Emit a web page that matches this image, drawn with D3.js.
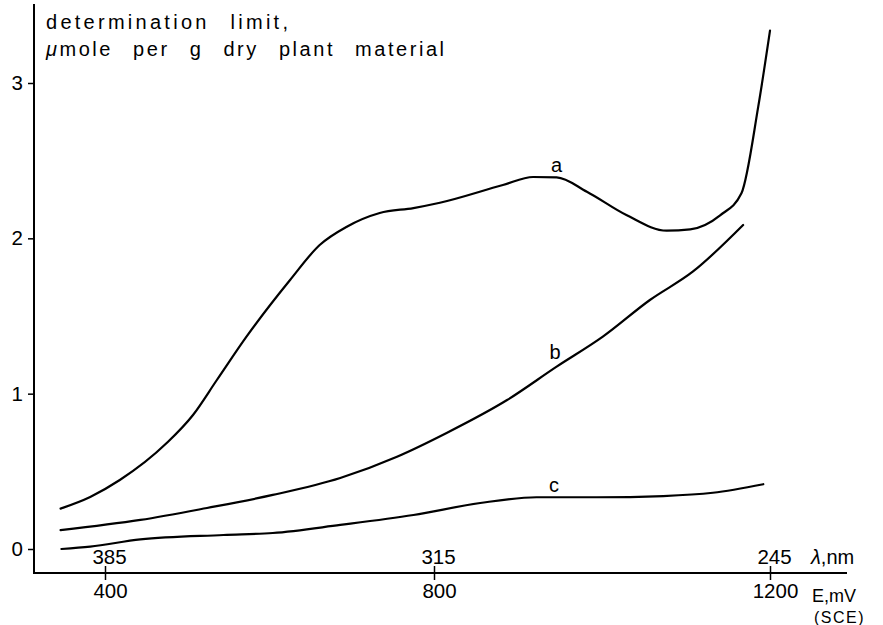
<!DOCTYPE html>
<html>
<head>
<meta charset="utf-8">
<script src="https://cdn.jsdelivr.net/npm/d3@7/dist/d3.min.js"></script>
<style>
  html, body { margin: 0; padding: 0; background: #fff; }
  svg { display: block; font-family: "Liberation Sans", Arial, Helvetica, sans-serif; }
  .curve { fill: none; stroke: #000; stroke-width: 2.2; stroke-linejoin: round; stroke-linecap: round; }
  .axisline { stroke: #000; stroke-width: 2; }
  .tick line { stroke: #000; stroke-width: 1.5; }
  .tick text { font-size: 20.5px; fill: #000; }
</style>
</head>
<body>
<svg id="chart" width="883" height="625"></svg>
<script>
// Potential E (mV vs SCE) and determination limit (µmole per g dry plant material)
const curveA_E = [346, 382, 418, 475, 507, 536, 572, 625, 661, 694, 734, 775, 807, 882, 918, 946, 982, 1029, 1077, 1105, 1141, 1166, 1186, 1200];
const curveA_v = [0.26, 0.335, 0.444, 0.682, 0.863, 1.088, 1.367, 1.732, 1.957, 2.075, 2.163, 2.195, 2.229, 2.343, 2.395, 2.393, 2.300, 2.150, 2.049, 2.058, 2.150, 2.290, 2.848, 3.337];

const curveB_E = [346, 443, 524, 604, 686, 755, 815, 887, 946, 1001, 1057, 1108, 1168];
const curveB_v = [0.122, 0.187, 0.264, 0.348, 0.457, 0.594, 0.747, 0.959, 1.174, 1.367, 1.603, 1.785, 2.086];

const curveC_E = [347, 382, 443, 544, 604, 686, 775, 855, 922, 994, 1073, 1132, 1192];
const curveC_v = [0.0, 0.015, 0.062, 0.090, 0.103, 0.155, 0.219, 0.296, 0.333, 0.333, 0.341, 0.362, 0.417];

// Axis ticks: potential (bottom) and matching wavelength (top)
const potentialTicks = [400, 800, 1200];
const wavelengthLabels = ["385", "315", "245"];
const valueTicks = [0, 1, 2, 3];

// Curve names with the point each name sits above
const curveNames = ["a", "b", "c"];
const nameE = [946, 944, 943];
const nameV = [2.43, 1.223, 0.369];

const svg = d3.select("#chart");

// The potential axis is not evenly spaced, so use a piecewise scale
const x = d3.scaleLinear().domain([400, 800, 1200]).range([105, 434, 770]);
const y = d3.scaleLinear().domain([0, 3]).range([549, 83]);

const axisY0 = 573;   // baseline of the horizontal axis
const axisX0 = 34;    // position of the vertical axis

// Axis lines
svg.append("line").attr("class", "axisline")
  .attr("x1", axisX0).attr("x2", axisX0)
  .attr("y1", 4).attr("y2", axisY0 + 1);
svg.append("line").attr("class", "axisline")
  .attr("x1", axisX0 - 1).attr("x2", 847)
  .attr("y1", axisY0).attr("y2", axisY0);

// Bottom axis: potential in mV
const gB = svg.append("g").attr("transform", `translate(0,${axisY0})`)
  .call(d3.axisBottom(x).tickValues(potentialTicks).tickSize(7).tickPadding(3).tickFormat(d3.format("d")));
gB.select(".domain").remove();
gB.selectAll(".tick line").attr("y1", -7).attr("y2", 7);
gB.selectAll(".tick text").attr("dx", 5).attr("font-family", null);

// Top labels: wavelength in nm
const gT = svg.append("g").attr("transform", `translate(0,${axisY0})`)
  .call(d3.axisTop(x).tickValues(potentialTicks).tickSize(0).tickPadding(9)
    .tickFormat((d, i) => wavelengthLabels[i]));
gT.select(".domain").remove();
gT.selectAll(".tick text").attr("dx", 4).attr("font-family", null);

// Left axis
const gL = svg.append("g").attr("transform", `translate(${axisX0},0)`)
  .call(d3.axisLeft(y).tickValues(valueTicks).tickSize(6).tickPadding(5).tickFormat(d3.format("d")));
gL.select(".domain").remove();
gL.selectAll(".tick text").attr("font-family", null);

// Curves
const line = d3.line().x(d => x(d[0])).y(d => y(d[1])).curve(d3.curveMonotoneX);
[[curveA_E, curveA_v], [curveB_E, curveB_v], [curveC_E, curveC_v]].forEach(([es, vs]) => {
  svg.append("path").attr("class", "curve").attr("d", line(d3.zip(es, vs)));
});

// Curve names
curveNames.forEach((n, i) => {
  svg.append("text").attr("x", x(nameE[i])).attr("y", y(nameV[i]))
    .attr("text-anchor", "middle").attr("font-size", 20).text(n);
});

// Axis titles
svg.append("text").attr("x", 46).attr("y", 29).attr("font-size", 20)
  .attr("textLength", 242).attr("lengthAdjust", "spacing")
  .attr("word-spacing", 12)
  .text("determination limit,");
const t2 = svg.append("text").attr("x", 46).attr("y", 56).attr("font-size", 20)
  .attr("textLength", 398).attr("lengthAdjust", "spacing")
  .attr("word-spacing", 12);
t2.append("tspan").attr("font-style", "italic").text("\u03bc");
t2.append("tspan").text("mole per g dry plant material");

const lam = svg.append("text").attr("x", 811).attr("y", axisY0 - 9).attr("font-size", 20);
lam.append("tspan").attr("font-style", "italic").text("\u03bb");
lam.append("tspan").text(",nm");

svg.append("text").attr("x", 812).attr("y", 602).attr("font-size", 18).text("E,mV");
svg.append("text").attr("x", 814).attr("y", 623).attr("font-size", 16)
  .attr("letter-spacing", 1.5).text("(SCE)");
</script>
</body>
</html>
